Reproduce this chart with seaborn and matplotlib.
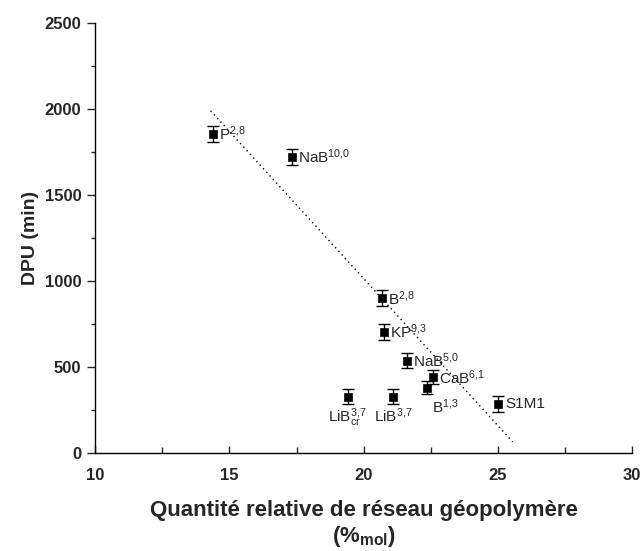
import numpy as np
import pandas as pd
import matplotlib
matplotlib.use("Agg")
import matplotlib.pyplot as plt
from matplotlib.ticker import MultipleLocator
import seaborn as sns

# Data
samples = ["P", "NaB10", "B28", "KP", "NaB5", "CaB", "B13", "LiB", "LiBcr", "S1M1"]
labels = [r"P$^{2{,}8}$", r"NaB$^{10{,}0}$", r"B$^{2{,}8}$", r"KP$^{9{,}3}$", r"NaB$^{5{,}0}$",
          r"CaB$^{6{,}1}$", r"B$^{1{,}3}$", r"LiB$^{3{,}7}$", r"LiB$_{\mathrm{cr}}^{3{,}7}$", "S1M1"]
reseau = [14.4, 17.35, 20.67, 20.75, 21.6, 22.6, 22.35, 21.1, 19.4, 25.0]
dpu = [1855, 1722, 900, 703, 537, 440, 380, 328, 328, 285]
err = [45, 45, 45, 45, 45, 40, 40, 45, 45, 45]

# dotted trend line end points
trend_x = [14.3, 25.55]
trend_y = [1990, 65]

df = pd.DataFrame({"sample": samples, "x": reseau, "y": dpu, "err": err, "label": labels})

sns.set_style("ticks")
plt.rcParams["font.family"] = ["Liberation Sans", "DejaVu Sans"]
plt.rcParams["mathtext.fontset"] = "custom"
plt.rcParams["mathtext.rm"] = "Liberation Sans"
plt.rcParams["mathtext.it"] = "Liberation Sans:italic"
plt.rcParams["mathtext.bf"] = "Liberation Sans:bold"

fig = plt.figure(figsize=(6.43, 5.51), dpi=100)
ax = fig.add_axes([0.148, 0.178, 0.835, 0.780])

sns.lineplot(x=trend_x, y=trend_y, ax=ax, color="black", linestyle=(0, (1, 2.5)), linewidth=1)
ax.errorbar(df["x"], df["y"], yerr=df["err"], fmt="none", ecolor="black",
            elinewidth=1, capsize=4, capthick=1)
sns.scatterplot(data=df, x="x", y="y", ax=ax, marker="s", s=36, color="black",
                edgecolor="black", zorder=3)

# label placement (pixel offsets)
offsets = {
    "P": (6, 0, "left", "center"),
    "NaB10": (6, 0, "left", "center"),
    "B28": (6, 0, "left", "center"),
    "KP": (6, 0, "left", "center"),
    "NaB5": (6, 0, "left", "center"),
    "CaB": (6, 0, "left", "center"),
    "B13": (5, -10, "left", "top"),
    "LiB": (0, -10, "center", "top"),
    "LiBcr": (0, -10, "center", "top"),
    "S1M1": (8, 0, "left", "center"),
}
for _, r in df.iterrows():
    dx, dy, ha, va = offsets[r["sample"]]
    ax.annotate(r["label"], (r["x"], r["y"]), xytext=(dx, dy), textcoords="offset pixels",
                ha=ha, va=va, fontsize=11)

ax.set_xlim(10, 30)
ax.set_ylim(0, 2500)
ax.xaxis.set_major_locator(MultipleLocator(5))
ax.xaxis.set_minor_locator(MultipleLocator(2.5))
ax.yaxis.set_major_locator(MultipleLocator(500))
ax.yaxis.set_minor_locator(MultipleLocator(250))
ax.tick_params(axis="x", which="major", direction="in", length=5, width=1, pad=11)
ax.tick_params(axis="x", which="minor", direction="in", length=4, width=1)
ax.tick_params(axis="y", which="major", direction="out", length=6, width=1, pad=4)
ax.tick_params(axis="y", which="minor", direction="out", length=3, width=1)
for lab in ax.get_xticklabels() + ax.get_yticklabels():
    lab.set_fontweight("bold")
    lab.set_fontsize(12)
sns.despine(ax=ax)
for s in ["left", "bottom"]:
    ax.spines[s].set_linewidth(1)
    ax.spines[s].set_color("black")

ax.set_xlabel("Quantité relative de réseau géopolymère\n" + r"(%$_{\mathbf{mol}}$)",
              fontsize=16, fontweight="bold", labelpad=12, linespacing=1.2)
ax.set_ylabel("DPU (min)", fontsize=14, fontweight="bold", labelpad=4)

fig.savefig("out.png", dpi=100)
